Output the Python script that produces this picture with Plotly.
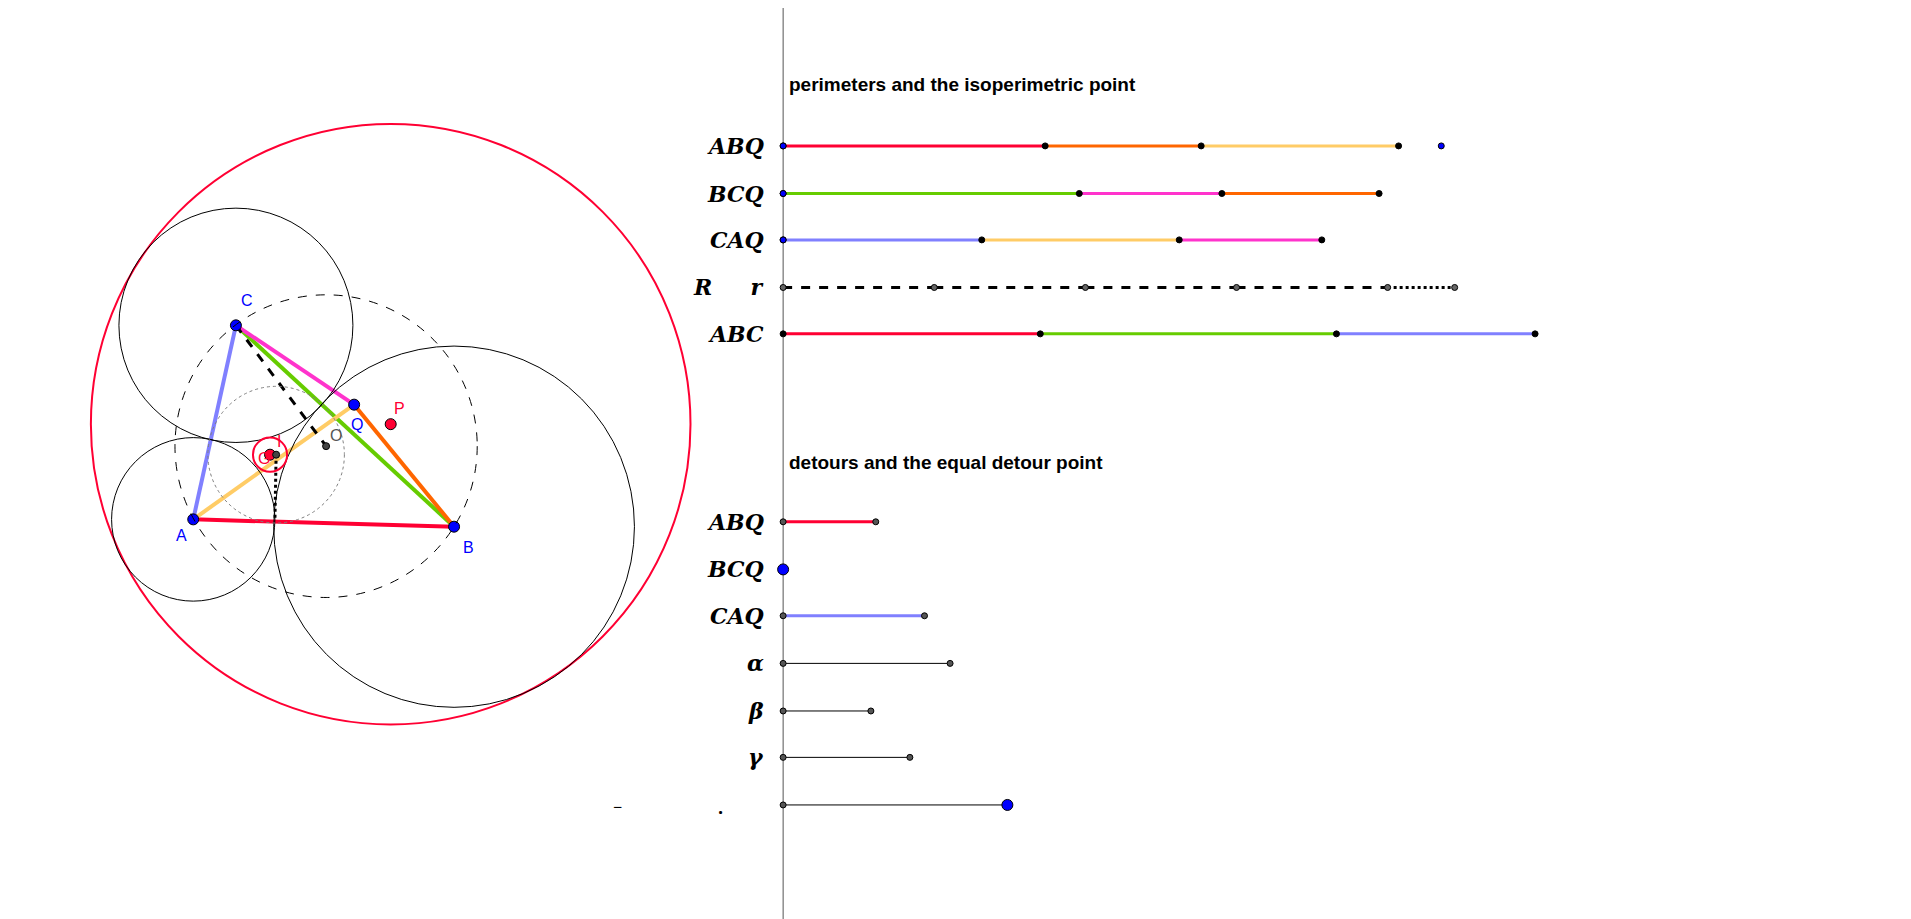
import plotly.graph_objects as go

# geometry points (drawing units, y down)
pts = {"A": (152, 419), "B": (366, 425), "C": (187, 260), "Q": (284, 325),
       "P": (314, 341), "O": (261, 359), "G": (215, 366), "I": (220, 366), "T": (219, 420)}
# circles: centre, radius, colour, dash, width
circles = [("P", 246, "#FF0033", "solid", 2), ("C", 96, "black", "solid", 1),
           ("A", 67, "black", "solid", 1), ("B", 148, "black", "solid", 1),
           ("O", 124, "black", "dash", 1), ("I", 56, "gray", "dot", 1),
           ("G", 14, "#FF0033", "solid", 2)]
sides = [("A", "B", "#FF0033"), ("B", "C", "#66CC00"), ("C", "A", "#8080FF"),
         ("A", "Q", "#FFCC66"), ("B", "Q", "#FF6600"), ("C", "Q", "#FF33CC")]

# bar rows on the right
x0 = 636
per_labels = ["ABQ", "BCQ", "CAQ", "R     r", "ABC"]
per_y = [113, 152, 190, 229, 267]
per_lengths = [[215, 128, 162], [243, 117, 129], [163, 162, 117], [124, 124, 124, 124], [211, 243, 163]]
per_colors = [["#FF0033", "#FF6600", "#FFCC66"], ["#66CC00", "#FF33CC", "#FF6600"],
              ["#8080FF", "#FFCC66", "#FF33CC"], ["black"] * 4, ["#FF0033", "#66CC00", "#8080FF"]]
r_extra = 55
abq_point = 1176

det_labels = ["ABQ", "BCQ", "CAQ", "α", "β", "γ", ""]
det_y = [421, 460, 498, 537, 576, 614, 653]
det_lengths = [76, 0, 116, 137, 72, 104, 184]
det_colors = ["#FF0033", "#0000FF", "#8080FF", "black", "black", "black", "black"]

fig = go.Figure()
for c, r, col, dash, w in circles:
    cx, cy = pts[c]
    fig.add_shape(type="circle", x0=cx - r, x1=cx + r, y0=cy - r, y1=cy + r,
                  line=dict(color=col, dash=dash, width=w))

def seg(p, q, color, width, dash="solid"):
    fig.add_trace(go.Scatter(x=[p[0], q[0]], y=[p[1], q[1]], mode="lines",
                             line=dict(color=color, width=width, dash=dash), hoverinfo="skip"))

for a, b, col in sides:
    seg(pts[a], pts[b], col, 4)
seg(pts["C"], pts["O"], "black", 3, "dash")
seg(pts["I"], pts["T"], "black", 3, "dot")

def dots(xs, ys, color, size):
    fig.add_trace(go.Scatter(x=xs, y=ys, mode="markers", hoverinfo="skip",
                             marker=dict(color=color, size=size, line=dict(color="black", width=1))))

dots([pts[k][0] for k in "ABCQ"], [pts[k][1] for k in "ABCQ"], "#0000FF", 11)
dots([pts["P"][0], pts["G"][0]], [pts["P"][1], pts["G"][1]], "#FF0033", 11)
dots([pts["O"][0], pts["I"][0]], [pts["O"][1], pts["I"][1]], "#444", 7)

labels = [("C", 196, 240, "#0000FF"), ("A", 142, 432, "#0000FF"), ("B", 378, 442, "#0000FF"),
          ("Q", 286, 341, "#0000FF"), ("P", 321, 328, "#FF0033"), ("O", 269, 350, "#555"),
          ("I", 222, 355, "#FF0033"), ("G", 210, 369, "#FF0033")]
for t, x, y, col in labels:
    fig.add_annotation(x=x, y=y, text=t, showarrow=False, font=dict(color=col, size=16, family="Arial"))

# axis line
fig.add_trace(go.Scatter(x=[x0, x0], y=[0, 753], mode="lines", line=dict(color="#555", width=1), hoverinfo="skip"))

lab_font = dict(family="DejaVu Serif, Times New Roman", size=22, color="black")
for lab, y, lens, cols in zip(per_labels, per_y, per_lengths, per_colors):
    x = x0
    xs = [x]
    for L, col in zip(lens, cols):
        seg((x, y), (x + L, y), col, 3, "dash" if lab.startswith("R") else "solid")
        x += L
        xs.append(x)
    if lab.startswith("R"):
        seg((x, y), (x + r_extra, y), "black", 3, "dot")
        xs.append(x + r_extra)
        dots(xs, [y] * len(xs), "#666", 6)
    else:
        dots(xs, [y] * len(xs), "black", 6)
    fig.add_annotation(x=622, y=y, text="<b><i>" + lab + "</i></b>", xanchor="right",
                       showarrow=False, font=lab_font)
dots([x0, x0, x0], per_y[:3], "#0000FF", 6)
dots([abq_point], [per_y[0]], "#0000FF", 6)

for lab, y, L, col in zip(det_labels, det_y, det_lengths, det_colors):
    w = 1 if col == "black" else 3
    if L:
        seg((x0, y), (x0 + L, y), col, w)
        dots([x0, x0 + L], [y, y], "#555", 6)
    if lab:
        fig.add_annotation(x=622, y=y, text="<b><i>" + lab + "</i></b>", xanchor="right",
                           showarrow=False, font=lab_font)
dots([x0], [det_y[1]], "#0000FF", 11)
dots([x0 + det_lengths[-1]], [det_y[-1]], "#0000FF", 11)
fig.add_annotation(x=500, y=655, text="−", showarrow=False, font=dict(size=16, color="black"))
fig.add_annotation(x=585, y=655, text="<b>.</b>", showarrow=False, font=dict(size=18, color="black"))

fig.add_annotation(x=639, y=63, text="<b>perimeters and the isoperimetric point</b>", xanchor="left",
                   showarrow=False, font=dict(family="Arial", size=19, color="black"))
fig.add_annotation(x=639, y=372, text="<b>detours and the equal detour point</b>", xanchor="left",
                   showarrow=False, font=dict(family="Arial", size=19, color="black"))

fig.update_layout(width=1911, height=919, margin=dict(l=0, r=0, t=0, b=0), showlegend=False,
                  paper_bgcolor="white", plot_bgcolor="white",
                  xaxis=dict(range=[0, 1568], visible=False),
                  yaxis=dict(range=[753, 0], visible=False))
fig.write_html("out.html")
